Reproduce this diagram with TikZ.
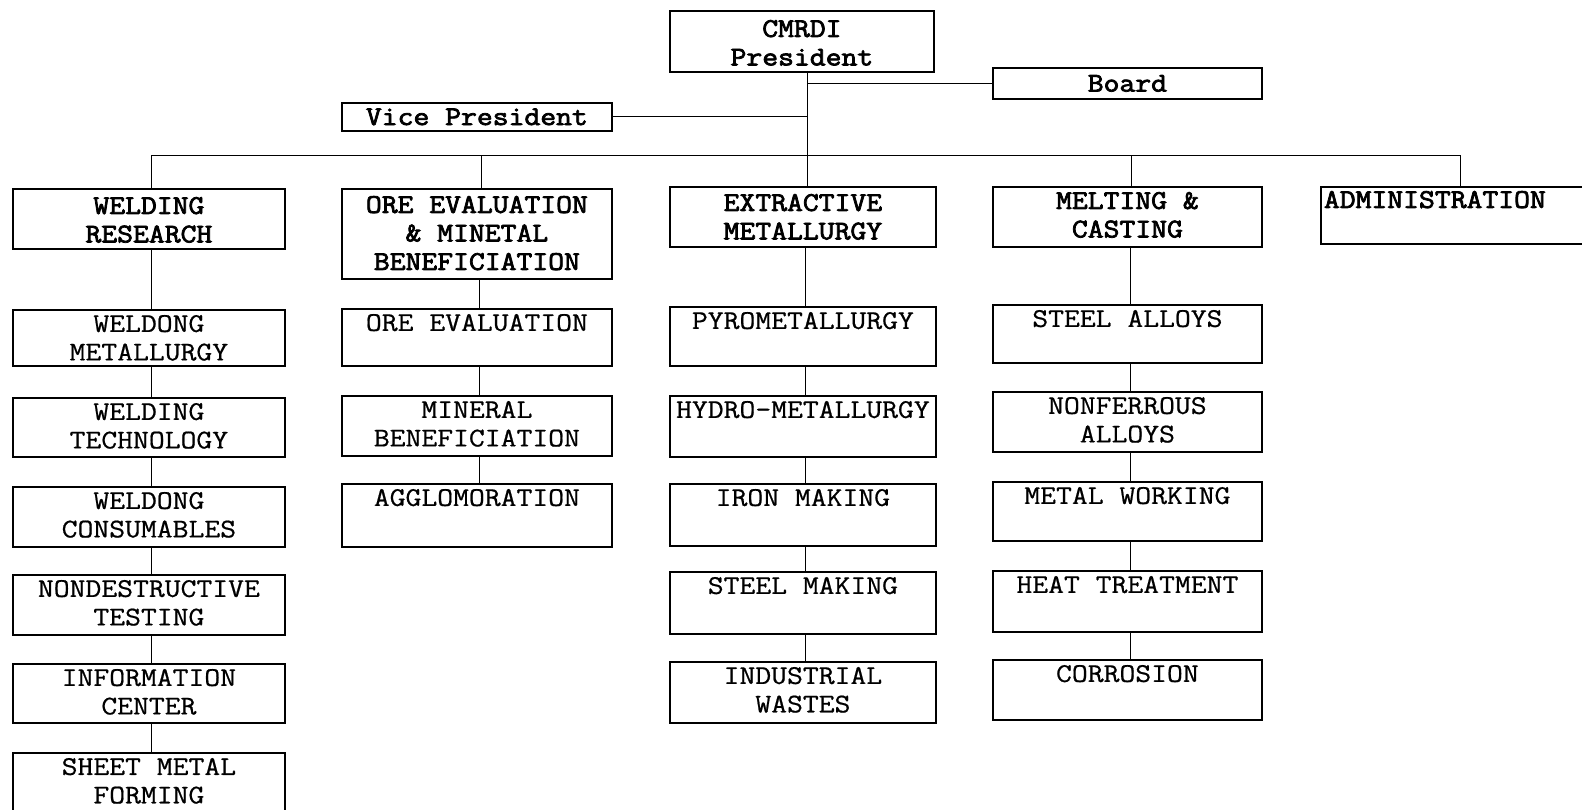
\documentclass[tikz,border=0pt]{standalone}
\usepackage{fontspec}
\setmainfont{Latin Modern Mono}[FakeStretch=1.14, FakeBold=0.7, BoldFont={Latin Modern Mono}, BoldFeatures={FakeStretch=1.14, FakeBold=2.8}]
\newcommand{\boxtext}[4]{\parbox[c][#2pt][t]{#1pt}{\centering\rule{0pt}{#3pt}#4}}
\tikzset{
  box/.style={draw, line width=1.8pt, inner sep=0pt, anchor=north west,
    font=\fontsize{27}{28.5}\selectfont},
  head/.style={box, font=\fontsize{27}{28.5}\selectfont\bfseries},
  conn/.style={line width=1pt},
}
\begin{document}
\begin{tikzpicture}[x=1pt,y=-1pt]
\clip (0,0) rectangle (1582,810);
\fill[white] (0,0) rectangle (1582,810);
% top
\node[head] (pres) at (669,10) {\boxtext{264}{61}{26}{CMRDI\\President}};
\node[head, minimum width=269pt, minimum height=31pt, anchor=north west] (board) at (992,67) {Board};
\node[head, minimum width=270pt, minimum height=28pt, anchor=north west] (vp) at (341,102) {Vice President};
% departments
\node[head] (wr) at (12,188) {\boxtext{272}{60}{25}{WELDING\\RESEARCH}};
\node[head] (oe) at (341,188) {\boxtext{270}{90}{24}{ORE EVALUATION\\\& MINETAL\\BENEFICIATION}};
\node[head] (em) at (669,186) {\boxtext{266}{60}{24}{EXTRACTIVE\\METALLURGY}};
\node[head] (mc) at (992,186) {\boxtext{269}{60}{22}{MELTING \&\\CASTING}};
\node[head] (ad) at (1320,186) {\parbox[c][57pt][t]{270pt}{\raggedright\rule{0pt}{21pt}\hspace*{3pt}ADMINISTRATION}};
% welding column
\node[box] (wm) at (12,309) {\boxtext{272}{56}{22}{WELDONG\\METALLURGY}};
\node[box] (wt) at (12,397) {\boxtext{272}{59}{22}{WELDING\\TECHNOLOGY}};
\node[box] (wc) at (12,486) {\boxtext{272}{60}{22}{WELDONG\\CONSUMABLES}};
\node[box] (nd) at (12,574) {\boxtext{272}{60}{22}{NONDESTRUCTIVE\\TESTING}};
\node[box] (ic) at (12,663) {\boxtext{272}{59}{22}{INFORMATION\\CENTER}};
\node[box] (sm) at (12,752) {\boxtext{272}{66}{22}{SHEET METAL\\FORMING}};
% ore column
\node[box] (oev) at (341,308) {\boxtext{270}{57}{22}{ORE EVALUATION}};
\node[box] (mb) at (341,395) {\boxtext{270}{60}{22}{MINERAL\\BENEFICIATION}};
\node[box] (ag) at (341,483) {\boxtext{270}{63}{22}{AGGLOMORATION}};
% extractive column
\node[box] (py) at (669,306) {\boxtext{266}{59}{22}{PYROMETALLURGY}};
\node[box] (hy) at (669,395) {\boxtext{266}{61}{22}{HYDRO-METALLURGY}};
\node[box] (im) at (669,483) {\boxtext{266}{62}{22}{IRON MAKING}};
\node[box] (st) at (669,571) {\boxtext{266}{62}{22}{STEEL MAKING}};
\node[box] (iw) at (669,661) {\boxtext{266}{61}{22}{INDUSTRIAL\\WASTES}};
% melting column
\node[box] (sa) at (992,304) {\boxtext{269}{58}{22}{STEEL ALLOYS}};
\node[box] (nf) at (992,391) {\boxtext{269}{60}{22}{NONFERROUS\\ALLOYS}};
\node[box] (mw) at (992,481) {\boxtext{269}{59}{22}{METAL WORKING}};
\node[box] (ht) at (992,570) {\boxtext{269}{61}{22}{HEAT TREATMENT}};
\node[box] (co) at (992,659) {\boxtext{269}{60}{22}{CORROSION}};
% connectors
\coordinate (bus) at (0,156);
\coordinate (trunk) at (807,0);
\draw[conn] (pres.south -| trunk) -- (em.north -| trunk);
\draw[conn] (board.west) -- (board.west -| trunk);
\draw[conn] (vp.east) -- (vp.east -| trunk);
\draw[conn] ([xshift=3pt]wr.north) -- ([xshift=3pt]wr.north |- bus) -- ([xshift=5pt]ad.north |- bus) -- ([xshift=5pt]ad.north);
\draw[conn] ([xshift=5pt]oe.north) -- ([xshift=5pt]oe.north |- bus);
\draw[conn] ([xshift=4pt]mc.north) -- ([xshift=4pt]mc.north |- bus);
\foreach \a/\b in {wr/wm, wm/wt, wt/wc, wc/nd, nd/ic, ic/sm,
                   oe/oev, oev/mb, mb/ag,
                   em/py, py/hy, hy/im, im/st, st/iw,
                   mc/sa, sa/nf, nf/mw, mw/ht, ht/co}
  \draw[conn] ([xshift=3pt]\a.south) -- ([xshift=3pt]\b.north);
\end{tikzpicture}
\end{document}
